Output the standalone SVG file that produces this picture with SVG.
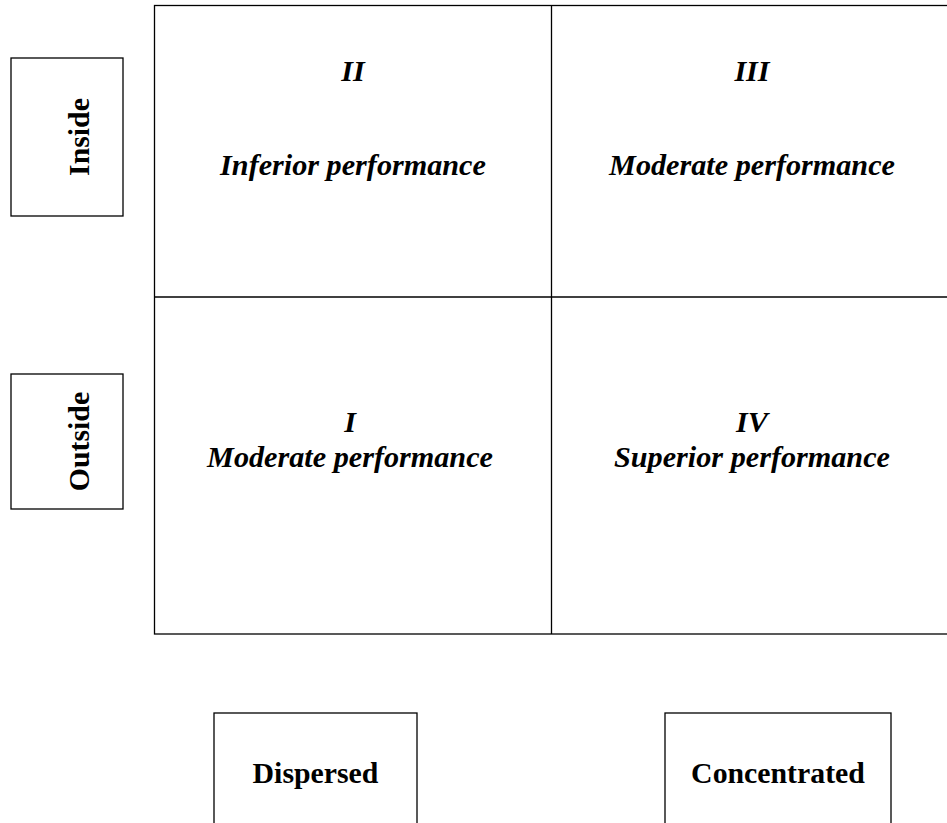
<svg xmlns="http://www.w3.org/2000/svg" width="947" height="823" viewBox="0 0 947 823">
<style>
.box{fill:#fff;stroke:#000;stroke-width:1.3}
.ln{stroke:#000;stroke-width:1.3;fill:none}
.lab{font-family:"Liberation Serif","Times New Roman",serif;font-weight:bold;font-size:29.8px;fill:#000;text-anchor:middle}
.q{font-family:"Liberation Serif","Times New Roman",serif;font-weight:bold;font-style:italic;font-size:30.2px;fill:#000;text-anchor:middle}
</style>
<rect width="947" height="823" fill="#fff"/>
<g id="grid">
<rect class="box" x="154.5" y="5.5" width="800" height="628.5"/>
</g>
<g id="connectors">
<line class="ln" x1="551.5" y1="5.5" x2="551.5" y2="634"/>
<line class="ln" x1="154.5" y1="297" x2="955" y2="297"/>
</g>
<g id="q2">
<text class="q" x="353" y="81">II</text>
<text class="q" x="353" y="175">Inferior performance</text>
</g>
<g id="q3">
<text class="q" x="752" y="81">III</text>
<text class="q" x="752" y="175">Moderate performance</text>
</g>
<g id="q1">
<text class="q" x="350" y="432">I</text>
<text class="q" x="350" y="467">Moderate performance</text>
</g>
<g id="q4">
<text class="q" x="752" y="432">IV</text>
<text class="q" x="752" y="467">Superior performance</text>
</g>
<g id="inside">
<rect class="box" x="11" y="58" width="112" height="158"/>
<text class="lab" transform="translate(88.5,137) rotate(-90)">Inside</text>
</g>
<g id="outside">
<rect class="box" x="11" y="374" width="112" height="135"/>
<text class="lab" transform="translate(88.5,441.5) rotate(-90)">Outside</text>
</g>
<g id="dispersed">
<rect class="box" x="214" y="713" width="203" height="130"/>
<text class="lab" x="315.5" y="783">Dispersed</text>
</g>
<g id="concentrated">
<rect class="box" x="665" y="713" width="226" height="130"/>
<text class="lab" x="778" y="783">Concentrated</text>
</g>
</svg>
